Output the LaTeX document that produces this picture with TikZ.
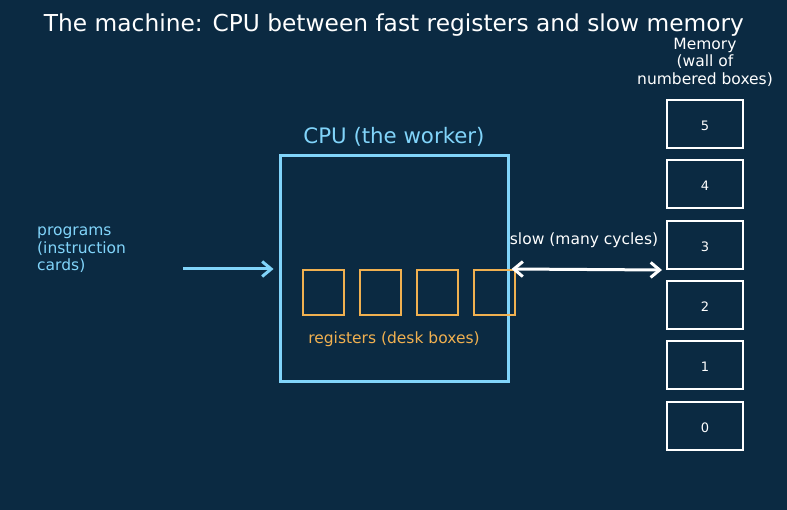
\documentclass[tikz,border=0pt]{standalone}
\usepackage{fontspec}
\setmainfont{DejaVu Sans}
\usetikzlibrary{arrows.meta}
\definecolor{bg}{HTML}{0B2A42}
\definecolor{lblue}{HTML}{81D4FA}
\definecolor{orng}{HTML}{F0B050}
\tikzset{
  reg/.style={draw=orng, line width=2pt, minimum width=41pt, minimum height=45pt, inner sep=0pt},
  mem/.style={draw=white, line width=2pt, minimum width=76pt, minimum height=48pt, inner sep=0pt, text=white, font=\fontsize{13}{15}\selectfont, text height=13pt},
  lbl/.style={font=\fontsize{15.5}{17.5}\selectfont, inner sep=0pt},
  tip/.tip={Straight Barb[length=9pt,width=15pt,line width=3pt]},
  arr/.style={line width=3pt, -tip},
}
\begin{document}
\begin{tikzpicture}[x=1pt,y=-1pt]
\fill[bg] (0,0) rectangle (787,510);
\useasboundingbox (0,0) rectangle (787,510);
\node[text=white, font=\fontsize{23.3}{27}\selectfont, inner sep=0pt] (title) at (394,25) {The machine: CPU between fast registers and slow memory};
\node[draw=lblue, line width=3pt, minimum width=228pt, minimum height=226pt, inner sep=0pt] (cpu) at (394,269) {};
\node[text=lblue, font=\fontsize{21.3}{25}\selectfont, inner sep=0pt] (cpul) at (394,137) {CPU (the worker)};
\node[reg] (r1) at (323.5,292.5) {};
\node[reg] (r2) at (380.5,292.5) {};
\node[reg] (r3) at (437.5,292.5) {};
\node[reg] (r4) at (494,292.5) {};
\node[lbl, text=orng] (regl) at (394,339) {registers (desk boxes)};
\node[lbl, text=lblue, align=left, anchor=west] (prog) at (37,250) {programs\\(instruction\\cards)};
\node[lbl, text=white, align=center] (meml) at (705,62) {Memory\\(wall of\\numbered boxes)};
\node[mem] (m5) at (705,124) {5};
\node[mem] (m4) at (705,184) {4};
\node[mem] (m3) at (705,245) {3};
\node[mem] (m2) at (705,305) {2};
\node[mem] (m1) at (705,365) {1};
\node[mem] (m0) at (705,426) {0};
\coordinate (pin) at (183,269);
\draw[arr, lblue] (pin) -- ([xshift=-5pt]cpu.west);
\coordinate (cr) at ([xshift=2pt]cpu.east);
\coordinate (mr) at ([xshift=-4pt]m3.south west);
\draw[line width=3pt, white, tip-tip] (cr) -- (mr);
\node[lbl, text=white] (slow) at (584,240) {slow (many cycles)};
\end{tikzpicture}
\end{document}
